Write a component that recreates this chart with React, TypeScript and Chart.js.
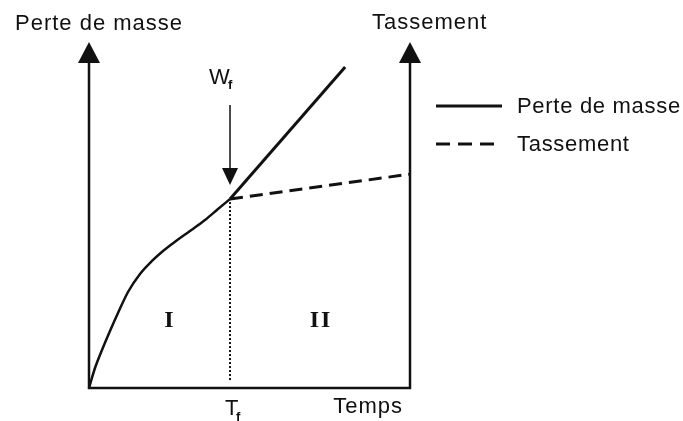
import React, { useEffect, useRef } from 'react';
import { Chart, registerables } from 'chart.js';

Chart.register(...registerables);

// Phase I (shared by both curves)
const tempsPhaseI = [0, 1.87, 4.05, 6.54, 9.03, 12.15, 15.89, 19.63, 23.05, 27.1, 31.46, 36.14, 40.19, 43.93];
const valeursPhaseI = [0, 5.78, 10.98, 16.47, 21.68, 27.75, 32.95, 36.71, 39.6, 42.49, 45.38, 48.55, 51.73, 54.62];
// Phase II
const tempsPerteII = [43.93, 79.8];
const valeursPerteII = [54.62, 92.8];
const tempsTassementII = [43.93, 100];
const valeursTassementII = [54.62, 61.8];
// Dotted line at Tf
const tempsTf = [43.93, 43.93];
const valeursTf = [2.3, 54.62];

const legendLabels = ['Perte de masse', 'Tassement'];
const axisTitles = ['Perte de masse', 'Tassement', 'Temps'];
const phaseLabels = ['I', 'II'];
const phaseX = [24.9, 72.0];
const phaseY = [19.4, 19.4];

const pts = (xs: number[], ys: number[]) => xs.map((x, i) => ({ x, y: ys[i] }));

const INK = '#111';
const SANS = '"Liberation Sans", Arial, sans-serif';

const diagramPlugin = {
  id: 'diagram',
  afterDatasetsDraw(chart: any) {
    const ctx = chart.ctx as CanvasRenderingContext2D;
    const xa = chart.scales.x;
    const ya = chart.scales.y;
    const x0 = xa.getPixelForValue(0);
    const x1 = xa.getPixelForValue(100);
    const y0 = ya.getPixelForValue(0);
    const yTop = ya.getPixelForValue(100);
    ctx.save();
    ctx.strokeStyle = INK;
    ctx.fillStyle = INK;
    ctx.lineWidth = 2.5;
    ctx.lineCap = 'square';
    ctx.beginPath();
    ctx.moveTo(x0, y0);
    ctx.lineTo(x0, yTop + 18);
    ctx.moveTo(x1, y0);
    ctx.lineTo(x1, yTop + 18);
    ctx.moveTo(x0, y0);
    ctx.lineTo(x1, y0);
    ctx.stroke();
    const head = (x: number) => {
      ctx.beginPath();
      ctx.moveTo(x, yTop);
      ctx.lineTo(x - 11, yTop + 21);
      ctx.lineTo(x + 11, yTop + 21);
      ctx.closePath();
      ctx.fill();
    };
    head(x0);
    head(x1);

    // axis titles
    (ctx as any).letterSpacing = '1px';
    ctx.font = `22px ${SANS}`;
    ctx.textBaseline = 'alphabetic';
    ctx.textAlign = 'left';
    ctx.fillText(axisTitles[0], x0 - 74, 30);
    ctx.fillText(axisTitles[1], x1 - 38, 29);
    ctx.textAlign = 'right';
    ctx.fillText(axisTitles[2], x1 - 7, 413);

    // Wf arrow
    const wx = xa.getPixelForValue(tempsPhaseI[tempsPhaseI.length - 1]);
    const wy = ya.getPixelForValue(valeursPhaseI[valeursPhaseI.length - 1]);
    ctx.lineWidth = 1.5;
    ctx.lineCap = 'butt';
    ctx.beginPath();
    ctx.moveTo(wx, 105);
    ctx.lineTo(wx, wy - 29);
    ctx.stroke();
    ctx.beginPath();
    ctx.moveTo(wx, wy - 14);
    ctx.lineTo(wx - 8, wy - 31);
    ctx.lineTo(wx + 8, wy - 31);
    ctx.closePath();
    ctx.fill();

    // Wf label
    ctx.textAlign = 'left';
    ctx.font = `22px ${SANS}`;
    ctx.fillText('W', wx - 21, 84);
    ctx.font = `bold 13px ${SANS}`;
    ctx.fillText('f', wx - 2, 89);
    // Tf label
    ctx.font = `22px ${SANS}`;
    ctx.fillText('T', wx - 5, 415);
    ctx.font = `bold 13px ${SANS}`;
    ctx.fillText('f', wx + 6, 421);

    // phase labels
    (ctx as any).letterSpacing = '2px';
    ctx.font = `bold 24px "Liberation Serif", "Times New Roman", serif`;
    ctx.textAlign = 'center';
    ctx.textBaseline = 'middle';
    phaseLabels.forEach((t, i) => {
      ctx.fillText(t, xa.getPixelForValue(phaseX[i]) + 1, ya.getPixelForValue(phaseY[i]));
    });

    // legend
    (ctx as any).letterSpacing = '0.7px';
    const ly = [106, 144];
    legendLabels.forEach((t, i) => {
      ctx.lineWidth = 3;
      ctx.setLineDash(i === 0 ? [] : [14, 8]);
      ctx.beginPath();
      ctx.moveTo(436, ly[i]);
      ctx.lineTo(502, ly[i]);
      ctx.stroke();
      ctx.setLineDash([]);
      ctx.font = `22px ${SANS}`;
      ctx.textAlign = 'left';
      ctx.textBaseline = 'middle';
      ctx.fillText(t, 517, ly[i] + 1);
    });
    ctx.restore();
  },
};

export default function App() {
  const ref = useRef<HTMLCanvasElement>(null);
  useEffect(() => {
    if (!ref.current) return;
    const chart = new Chart(ref.current, {
      type: 'line',
      data: {
        datasets: [
          {
            label: 'Phase I',
            data: pts(tempsPhaseI, valeursPhaseI),
            borderColor: INK,
            borderWidth: 2.5,
            cubicInterpolationMode: 'monotone',
            pointRadius: 0,
            clip: false as any,
          },
          {
            label: legendLabels[0],
            data: pts(tempsPerteII, valeursPerteII),
            borderColor: INK,
            borderWidth: 3,
            tension: 0,
            pointRadius: 0,
            clip: false as any,
          },
          {
            label: legendLabels[1],
            data: pts(tempsTassementII, valeursTassementII),
            borderColor: INK,
            borderWidth: 3,
            borderDash: [13, 7],
            tension: 0,
            pointRadius: 0,
            clip: false as any,
          },
          {
            label: 'Tf',
            data: pts(tempsTf, valeursTf),
            borderColor: INK,
            borderWidth: 2,
            borderDash: [2, 2],
            tension: 0,
            pointRadius: 0,
            clip: false as any,
          },
        ],
      } as any,
      options: {
        responsive: false,
        animation: false,
        events: [],
        layout: { padding: { left: 89, right: 273, top: 42, bottom: 33 } },
        plugins: { legend: { display: false }, tooltip: { enabled: false } },
        scales: {
          x: { type: 'linear', min: 0, max: 100, display: false },
          y: { type: 'linear', min: 0, max: 100, display: false },
        },
      } as any,
      plugins: [diagramPlugin],
    });
    return () => chart.destroy();
  }, []);
  return (
    <div style={{ position: 'fixed', left: 0, top: 0, width: 683, height: 421, background: '#fff' }}>
      <canvas ref={ref} width={683} height={421} style={{ display: 'block', width: 683, height: 421 }} />
    </div>
  );
}
